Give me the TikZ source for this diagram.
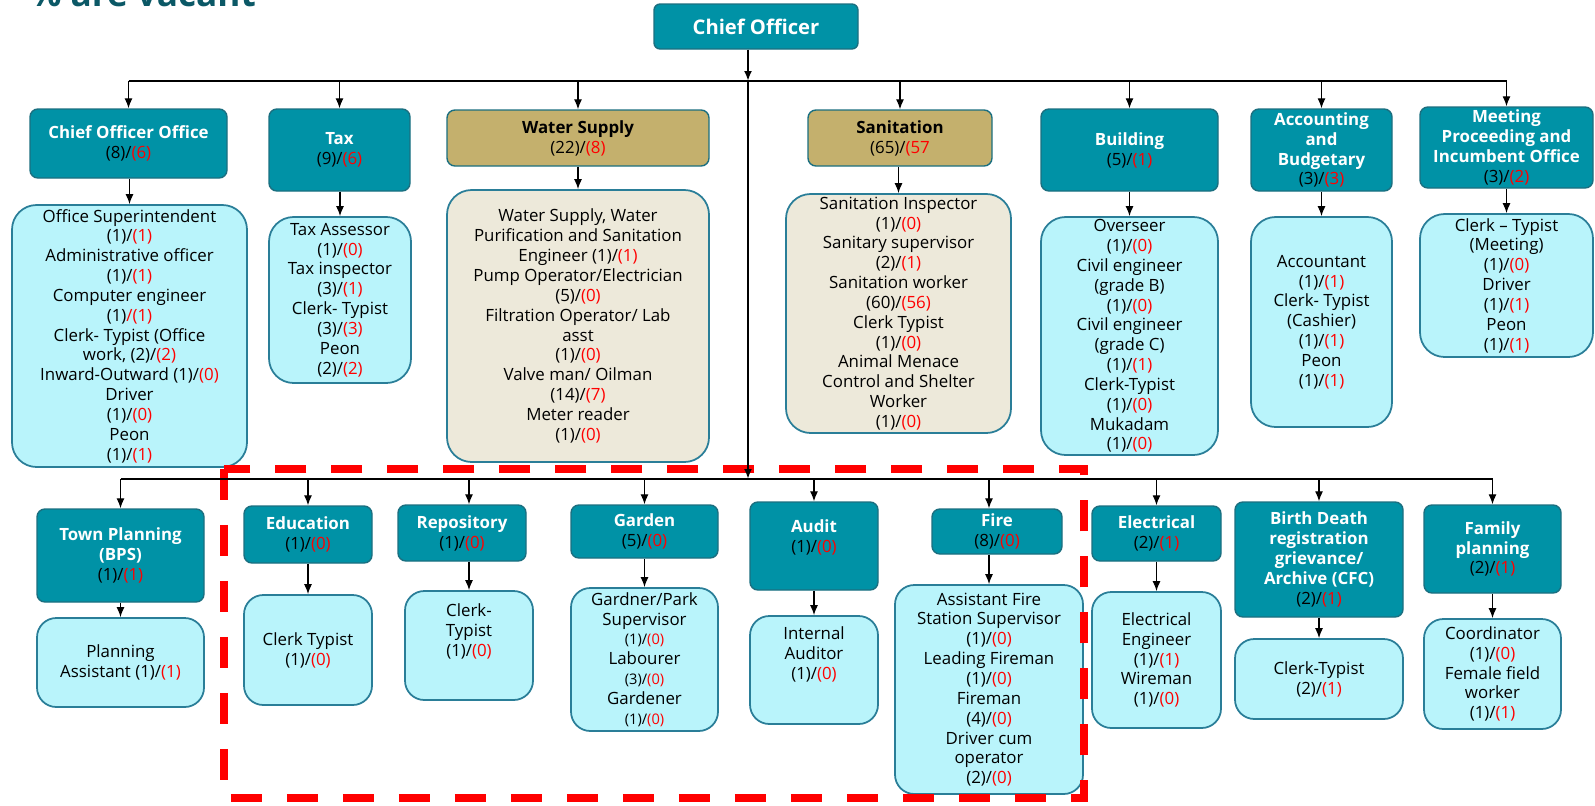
\documentclass[tikz,border=0pt]{standalone}
\usepackage{fontspec}
\setmainfont{Open Sans}
\usepackage{xcolor}
\usetikzlibrary{arrows.meta}

\definecolor{headfill}{HTML}{0092A6}
\definecolor{headline}{HTML}{1B6F80}
\definecolor{subfill}{HTML}{B9F4FB}
\definecolor{subline}{HTML}{2A7E98}
\definecolor{tanfill}{HTML}{C4B06D}
\definecolor{beigefill}{HTML}{EDE9DA}
\definecolor{vacred}{HTML}{FF0000}
\definecolor{titleteal}{HTML}{0B5866}

\newcommand{\vac}[1]{\textcolor{vacred}{(#1)}}
\newcommand{\hd}[1]{{\color{white}\bfseries #1}}
\newcommand{\sm}[1]{{\fontsize{8.3}{9}\selectfont #1}}

\tikzset{
  sz/.style 2 args={minimum width=#1*0.02cm, minimum height=#2*0.02cm},
  head/.style={draw=headline, fill=headfill, rounded corners=4.5pt, line width=0.8pt,
    align=center, inner sep=1pt, font=\fontsize{9.6}{11.3}\selectfont},
  tanhead/.style={head, fill=tanfill},
  sub/.style={draw=subline, fill=subfill, rounded corners=11pt, line width=1pt,
    align=center, inner sep=1pt, font=\fontsize{9.6}{11.3}\selectfont},
  bigsub/.style={sub, rounded corners=14pt},
  tansub/.style={bigsub, fill=beigefill},
  bus/.style={line width=1.1pt},
  drop/.style={line width=0.7pt, -{Latex[length=2mm,width=1.6mm]}},
}

\begin{document}
\begin{tikzpicture}[x=0.02cm, y=-0.02cm]
\useasboundingbox (0,0) rectangle (1595,805);
\node[anchor=base east, text=titleteal, font=\fontsize{20}{20}\selectfont\bfseries] (ttl) at (262,6) {\% are vacant};
\node[head, sz={204}{45}, rounded corners=3.5pt, font=\fontsize{11.5}{13}\selectfont] (chief) at (756,26.5) {\hd{Chief Officer}};
\coordinate (trunk) at ([xshift=-0.16cm]chief.south);

% first row
\node[head, sz={197}{69}] (hCOO) at (128.5,143.5) {\hd{Chief Officer Office}\\(8)/\vac{6}};
\node[head, sz={141}{82}] (hTax) at (339.5,150) {\hd{Tax}\\(9)/\vac{6}};
\node[tanhead, sz={262}{56}] (hWater) at (578,138) {\textbf{Water Supply}\\(22)/\vac{8}};
\node[tanhead, sz={184}{56}] (hSan) at (900,138) {\textbf{Sanitation}\\(65)/\textcolor{vacred}{(57}};
\node[head, sz={177}{82}] (hBuild) at (1129.5,150) {\hd{Building}\\(5)/\vac{1}};
\node[head, sz={141}{82}] (hAcc) at (1321.5,150) {\hd{Accounting}\\\hd{and}\\\hd{Budgetary}\\(3)/\vac{3}};
\node[head, sz={173}{81}] (hMeet) at (1506.5,147.5) {\hd{Meeting}\\\hd{Proceeding and}\\\hd{Incumbent Office}\\(3)/\vac{2}};

\node[bigsub, sz={235}{262}] (sCOO) at (129.5,336) {Office Superintendent\\(1)/\vac{1}\\Administrative officer\\(1)/\vac{1}\\Computer engineer\\(1)\textcolor{vacred}{/(1)}\\Clerk- Typist (Office\\work, (2)/\vac{2}\\Inward-Outward (1)/\vac{0}\\Driver\\(1)/\vac{0}\\Peon\\(1)/\vac{1}};
\node[bigsub, sz={142}{166}] (sTax) at (340,300) {Tax Assessor\\(1)/\vac{0}\\Tax inspector\\(3)/\vac{1}\\Clerk- Typist\\(3)/\vac{3}\\Peon\\(2)/\vac{2}};
\node[tansub, sz={262}{272}] (sWater) at (578,326) {Water Supply, Water\\Purification and Sanitation\\Engineer (1)/\vac{1}\\Pump Operator/Electrician\\(5)/\vac{0}\\Filtration Operator/ Lab\\asst\\(1)/\vac{0}\\Valve man/ Oilman\\(14)/\vac{7}\\Meter reader\\(1)/\vac{0}};
\node[tansub, sz={225}{239}] (sSan) at (898.5,313.5) {Sanitation Inspector\\(1)/\vac{0}\\Sanitary supervisor\\(2)/\vac{1}\\Sanitation worker\\(60)/\vac{56}\\Clerk Typist\\(1)/\vac{0}\\Animal Menace\\Control and Shelter\\Worker\\(1)/\vac{0}};
\node[bigsub, sz={177}{238}] (sBuild) at (1129.5,336) {Overseer\\(1)/\vac{0}\\Civil engineer\\(grade B)\\(1)/\vac{0}\\Civil engineer\\(grade C)\\(1)/\vac{1}\\Clerk-Typist\\(1)/\vac{0}\\Mukadam\\(1)/\vac{0}};
\node[bigsub, sz={141}{210}] (sAcc) at (1321.5,322) {Accountant\\(1)/\vac{1}\\Clerk- Typist\\(Cashier)\\(1)/\vac{1}\\Peon\\(1)/\vac{1}};
\node[bigsub, sz={173}{143}] (sMeet) at (1506.5,285.5) {Clerk -- Typist\\(Meeting)\\(1)/\vac{0}\\Driver\\(1)/\vac{1}\\Peon\\(1)/\vac{1}};

% second row
\node[head, sz={167}{93}] (hTown) at (120.5,555.5) {\hd{Town Planning}\\\hd{(BPS)}\\(1)/\vac{1}};
\node[head, sz={128}{57}] (hEdu) at (308,534.5) {\hd{Education}\\(1)/\vac{0}};
\node[head, sz={128}{56}] (hRep) at (462,533) {\hd{Repository}\\(1)/\vac{0}};
\node[head, sz={147}{53}] (hGard) at (644.5,531.5) {\hd{Garden}\\(5)/\vac{0}};
\node[head, sz={128}{88}] (hAud) at (814,546) {\hd{Audit}\\(1)/\vac{0}\\\mbox{}};
\node[head, sz={130}{45}] (hFire) at (997,531.5) {\hd{Fire}\\(8)/\vac{0}};
\node[head, sz={129}{55}] (hElec) at (1156.5,533.5) {\hd{Electrical}\\(2)/\vac{1}};
\node[head, sz={168}{115}] (hBirth) at (1319,559.5) {\hd{Birth Death}\\\hd{registration}\\\hd{grievance/}\\\hd{Archive (CFC)}\\(2)/\vac{1}};
\node[head, sz={137}{88}] (hFam) at (1492.5,549) {\hd{Family}\\\hd{planning}\\(2)/\vac{1}};

\node[sub, sz={167}{89}] (sTown) at (120.5,662.5) {Planning\\Assistant (1)/\vac{1}};
\node[sub, sz={128}{110}] (sEdu) at (308,650) {Clerk Typist\\(1)/\vac{0}};
\node[sub, sz={128}{109}] (sRep) at (469,645.5) {Clerk-\\Typist\\(1)/\vac{0}\\[6pt]};
\node[sub, sz={147}{143}] (sGard) at (644.5,659.5) {Gardner/Park\\Supervisor\\\sm{(1)/\vac{0}}\\Labourer\\\sm{(3)/\vac{0}}\\Gardener\\\sm{(1)/\vac{0}}};
\node[sub, sz={128}{108}] (sAud) at (814,670) {Internal\\Auditor\\(1)/\vac{0}\\[8pt]};
\node[sub, sz={188}{209}] (sFire) at (989,689.5) {Assistant Fire\\Station Supervisor\\(1)/\vac{0}\\Leading Fireman\\(1)/\vac{0}\\Fireman\\(4)/\vac{0}\\Driver cum\\operator\\(2)/\vac{0}};
\node[sub, sz={129}{136}] (sElec) at (1156.5,660) {Electrical\\Engineer\\(1)/\vac{1}\\Wireman\\(1)/\vac{0}};
\node[sub, sz={168}{80}] (sBirth) at (1319,679) {Clerk-Typist\\(2)/\vac{1}};
\node[sub, sz={137}{110}] (sFam) at (1492.5,674) {Coordinator\\(1)/\vac{0}\\Female field\\worker\\(1)/\vac{1}};

\draw[vacred, line width=4.5pt, dash pattern=on 0.62cm off 0.5cm] (224,469) rectangle (1084,798);

\coordinate (busA) at (0,81);
\coordinate (busB) at (0,479);
\draw[bus] (hCOO.north |- busA) -- (hMeet.north |- busA);
\draw[bus] (hTown.north |- busB) -- (hFam.north |- busB);
\draw[drop, line width=1.3pt] (trunk) -- (trunk |- busA);
\draw[drop, line width=1.3pt] (trunk |- busA) -- (trunk |- busB);

\foreach \n in {COO,Tax,Water,San,Build,Acc,Meet} {
  \draw[drop] (h\n.north |- busA) -- (h\n.north);
  \draw[drop] (s\n.north |- h\n.south) -- (s\n.north);
}
\foreach \n in {Town,Edu,Rep,Gard,Aud,Fire,Elec,Birth,Fam} {
  \draw[drop] (s\n.north |- busB) -- (s\n.north |- h\n.north);
  \draw[drop] (s\n.north |- h\n.south) -- (s\n.north);
}
\end{tikzpicture}
\end{document}
